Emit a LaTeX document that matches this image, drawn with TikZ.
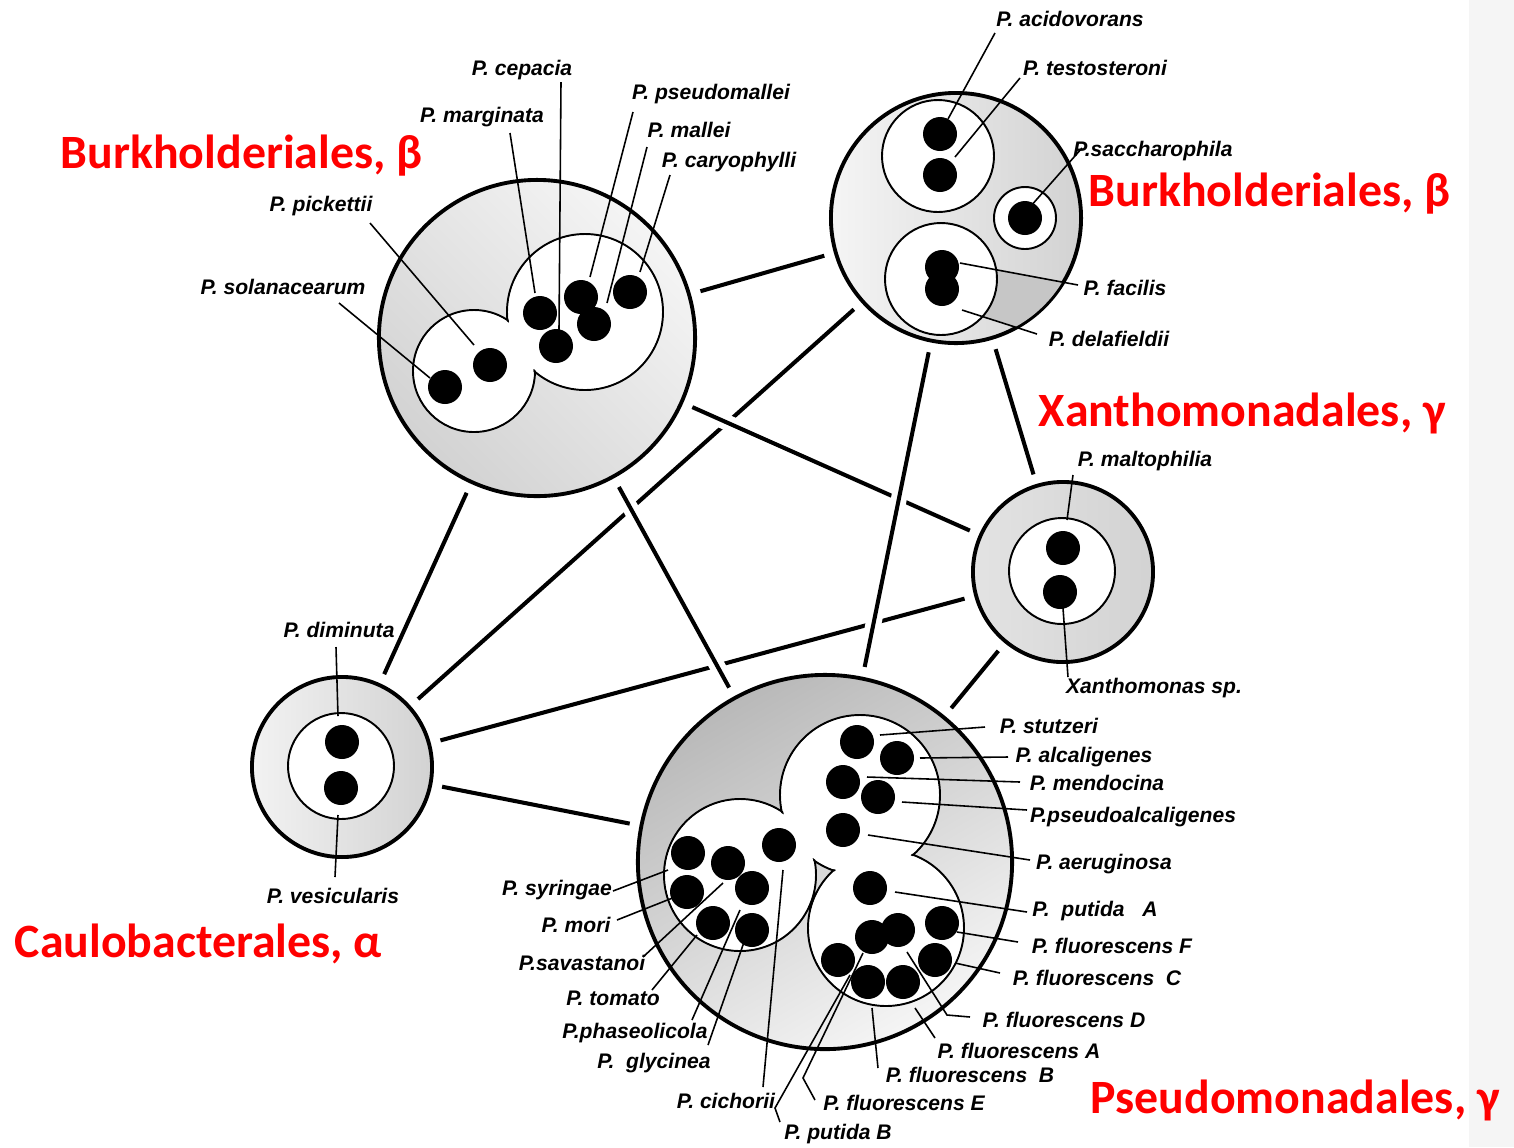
\documentclass[tikz,border=0pt]{standalone}
\usepackage{fontspec}
\newfontfamily\spfont{Liberation Sans}
\newfontfamily\ordfont{Carlito}
\usetikzlibrary{positioning,backgrounds}

\begin{document}
\begin{tikzpicture}[x=0.01cm, y=-0.01cm,
  ring/.style={circle, draw, line width=1.1pt, inner sep=0pt},
  lobe/.style={draw, line width=0.55pt, fill=white},
  link/.style={line width=1.15pt, shorten <=0.1cm, shorten >=0.1cm},
  over/.style={preaction={draw=white, line width=4.5pt}},
  lead/.style={line width=0.45pt},
  tag/.style={font=\spfont\bfseries\itshape\fontsize{6}{7}\selectfont, inner sep=0pt},
  order/.style={font=\ordfont\bfseries\fontsize{13.6}{15}\selectfont, text=red, inner sep=0pt, anchor=base west}]
  \useasboundingbox (0,0) rectangle (1514,1147);

  % the five groups
  \node[ring, minimum size=3.16cm, top color=gray!8, bottom color=gray!35, shading angle=-45] (A) at (537,338) {};
  \node[ring, minimum size=2.5cm, left color=gray!8, right color=gray!35] (B) at (956,218) {};
  \node[ring, minimum size=1.8cm, left color=gray!22, right color=gray!35] (C) at (1063,572) {};
  \node[ring, minimum size=1.8cm, left color=gray!10, right color=gray!35] (D) at (342,767) {};
  \node[ring, minimum size=3.74cm, top color=gray!55, bottom color=gray!8, shading angle=30] (E) at (825,862) {};

  % links between the groups
  \begin{scope}[on background layer]
    \fill[white] (0,0) rectangle (1514,1147);
    \fill[gray!8] (1469,0) rectangle (1514,1147);
    \draw[link] (B) -- (D);
    \draw[link] (D) -- (C);
    \draw[link] (A) -- (B);
    \draw[link] (A) -- (D);
    \draw[link] (B) -- (C);
    \draw[link] (D) -- (E);
    \draw[link] (C) -- (E);
    \draw[link, over] (A) -- (C);
    \draw[link, over] (A) -- (E);
    \draw[link, over] (B) -- (E);
  \end{scope}

  % group A
  \draw[lobe] (474,371) circle[radius=61] (585,312) circle[radius=78];
  \fill[white] (474,371) circle[radius=59.5] (585,312) circle[radius=76.5];
  \draw[lead] (339,303) -- (430,378);
  \draw[lead] (370,223) -- (474,345);
  \draw[lead] (510,133) -- (535,293);
  \draw[lead] (561,82) -- (559,330);
  \draw[lead] (633,112) -- (590,277);
  \draw[lead] (647,147) -- (607,303);
  \draw[lead] (670,175) -- (640,272);
  \fill (445,387) circle[radius=17] (490,365) circle[radius=17] (540,313) circle[radius=17]
        (581,297) circle[radius=17] (556,346) circle[radius=17] (594,324) circle[radius=17]
        (630,292) circle[radius=17];
  \node[tag] (cep) at (522,70) {P. cepacia};
  \node[tag] (mar) at (482,117) {P. marginata};
  \node[tag] (psm) at (711,94) {P. pseudomallei};
  \node[tag] (mal) at (689,130) {P. mallei};
  \node[tag] (car) at (729,162) {P. caryophylli};
  \node[tag] (pic) at (321,206) {P. pickettii};
  \node[tag] (sol) at (283,287) {P. solanacearum};

  % group B
  \begin{scope}
    \clip (956,218) circle[radius=124];
    \fill[gray!45] (960,263) -- (1090,287) -- (1090,360) -- (1050,338) -- (962,310) -- cycle;
  \end{scope}
  \draw[lobe] (938,156) circle[radius=56];
  \draw[lobe] (941,279) circle[radius=56];
  \draw[lobe] (1025,218) circle[radius=31];
  \draw[lead] (995,33) -- (948,119);
  \draw[lead] (1020,78) -- (955,157);
  \draw[lead] (1082,148) -- (1030,207);
  \draw[lead] (960,263) -- (1078,285);
  \draw[lead] (962,310) -- (1037,334);
  \fill (940,134) circle[radius=17] (940,175) circle[radius=17] (1025,218) circle[radius=17]
        (942,267) circle[radius=17] (942,289) circle[radius=17];
  \node[tag] (aci) at (1070,19) {P. acidovorans};
  \node[tag] (tes) at (1095,68) {P. testosteroni};
  \node[tag] (sac) at (1153,151) {P.saccharophila};
  \node[tag] (fac) at (1125,288) {P. facilis};
  \node[tag] (del) at (1109,339) {P. delafieldii};

  % group C
  \draw[lobe] (1062,571) circle[radius=53];
  \draw[lead] (1073,475) -- (1067,520);
  \draw[lead] (1063,608) -- (1068,677);
  \fill (1063,548) circle[radius=17] (1060,592) circle[radius=17];
  \node[tag] (mlt) at (1145,461) {P. maltophilia};
  \node[tag] (xan) at (1154,688) {Xanthomonas sp.};

  % group D
  \draw[lobe] (341,766) circle[radius=53];
  \draw[lead] (336,647) -- (338,716);
  \draw[lead] (338,815) -- (335,877);
  \fill (342,742) circle[radius=17] (341,788) circle[radius=17];
  \node[tag] (dim) at (339,630) {P. diminuta};
  \node[tag] (ves) at (333,896) {P. vesicularis};

  % group E
  \draw[lobe] (740,875) circle[radius=76] (860,795) circle[radius=80] (886,928) circle[radius=78];
  \fill[white] (740,875) circle[radius=74.5] (860,795) circle[radius=78.5] (886,928) circle[radius=76.5];
  \draw[lead] (880,735) -- (985,727);
  \draw[lead] (920,758) -- (1008,757);
  \draw[lead] (867,777) -- (1020,782);
  \draw[lead] (902,802) -- (1027,810);
  \draw[lead] (868,835) -- (1030,860);
  \draw[lead] (895,892) -- (1027,912);
  \draw[lead] (957,932) -- (1018,942);
  \draw[lead] (955,963) -- (1000,973);
  \draw[lead] (907,952) -- (947,1015) -- (970,1017);
  \draw[lead] (915,1008) -- (935,1038);
  \draw[lead] (872,1008) -- (878,1068);
  \draw[lead] (863,953) -- (803,1078) -- (815,1100);
  \draw[lead] (850,975) -- (775,1108) -- (780,1122);
  \draw[lead] (783,870) -- (763,1087);
  \draw[lead] (613,891) -- (668,870);
  \draw[lead] (617,920) -- (675,897);
  \draw[lead] (643,957) -- (723,883);
  \draw[lead] (652,990) -- (697,935);
  \draw[lead] (692,1020) -- (740,910);
  \draw[lead] (708,1045) -- (750,925);
  \fill (857,742) circle[radius=17] (897,758) circle[radius=17] (843,782) circle[radius=17]
        (878,797) circle[radius=17] (843,830) circle[radius=17] (870,888) circle[radius=17]
        (872,937) circle[radius=17] (898,930) circle[radius=17] (942,923) circle[radius=17]
        (838,960) circle[radius=17] (868,982) circle[radius=17] (903,982) circle[radius=17]
        (935,960) circle[radius=17] (688,853) circle[radius=17] (728,863) circle[radius=17]
        (687,892) circle[radius=17] (752,888) circle[radius=17] (713,923) circle[radius=17]
        (752,930) circle[radius=17] (779,845) circle[radius=17];
  \node[tag] (stu) at (1049,726) {P. stutzeri};
  \node[tag] (alc) at (1084,757) {P. alcaligenes};
  \node[tag] (men) at (1097,783) {P. mendocina};
  \node[tag] (psa) at (1133,817) {P.pseudoalcaligenes};
  \node[tag] (aer) at (1104,864) {P. aeruginosa};
  \node[tag] (pua) at (1095,911) {P.~~putida~~~A};
  \node[tag] (flf) at (1112,946) {P. fluorescens F};
  \node[tag] (flc) at (1097,978) {P. fluorescens~~C};
  \node[tag] (fld) at (1064,1020) {P. fluorescens D};
  \node[tag] (fla) at (1019,1051) {P. fluorescens A};
  \node[tag] (flb) at (970,1075) {P. fluorescens~~B};
  \node[tag] (fle) at (904,1103) {P. fluorescens E};
  \node[tag] (pub) at (838,1134) {P. putida B};
  \node[tag] (cic) at (726,1101) {P. cichorii};
  \node[tag] (gly) at (654,1063) {P.~~glycinea};
  \node[tag] (pha) at (635,1033) {P.phaseolicola};
  \node[tag] (tom) at (613,998) {P. tomato};
  \node[tag] (sav) at (582,963) {P.savastanoi};
  \node[tag] (mor) at (576,925) {P. mori};
  \node[tag] (syr) at (557,890) {P. syringae};

  % orders
  \node[order] (burk1) at (60,168) {Burkholderiales, β};
  \node[order] (burk2) at (1088,206) {Burkholderiales, β};
  \node[order] (xant) at (1038,426) {Xanthomonadales, γ};
  \node[order] (caul) at (14,957) {Caulobacterales, α};
  \node[order] (pseu) at (1090,1113) {Pseudomonadales, γ};
\end{tikzpicture}
\end{document}
